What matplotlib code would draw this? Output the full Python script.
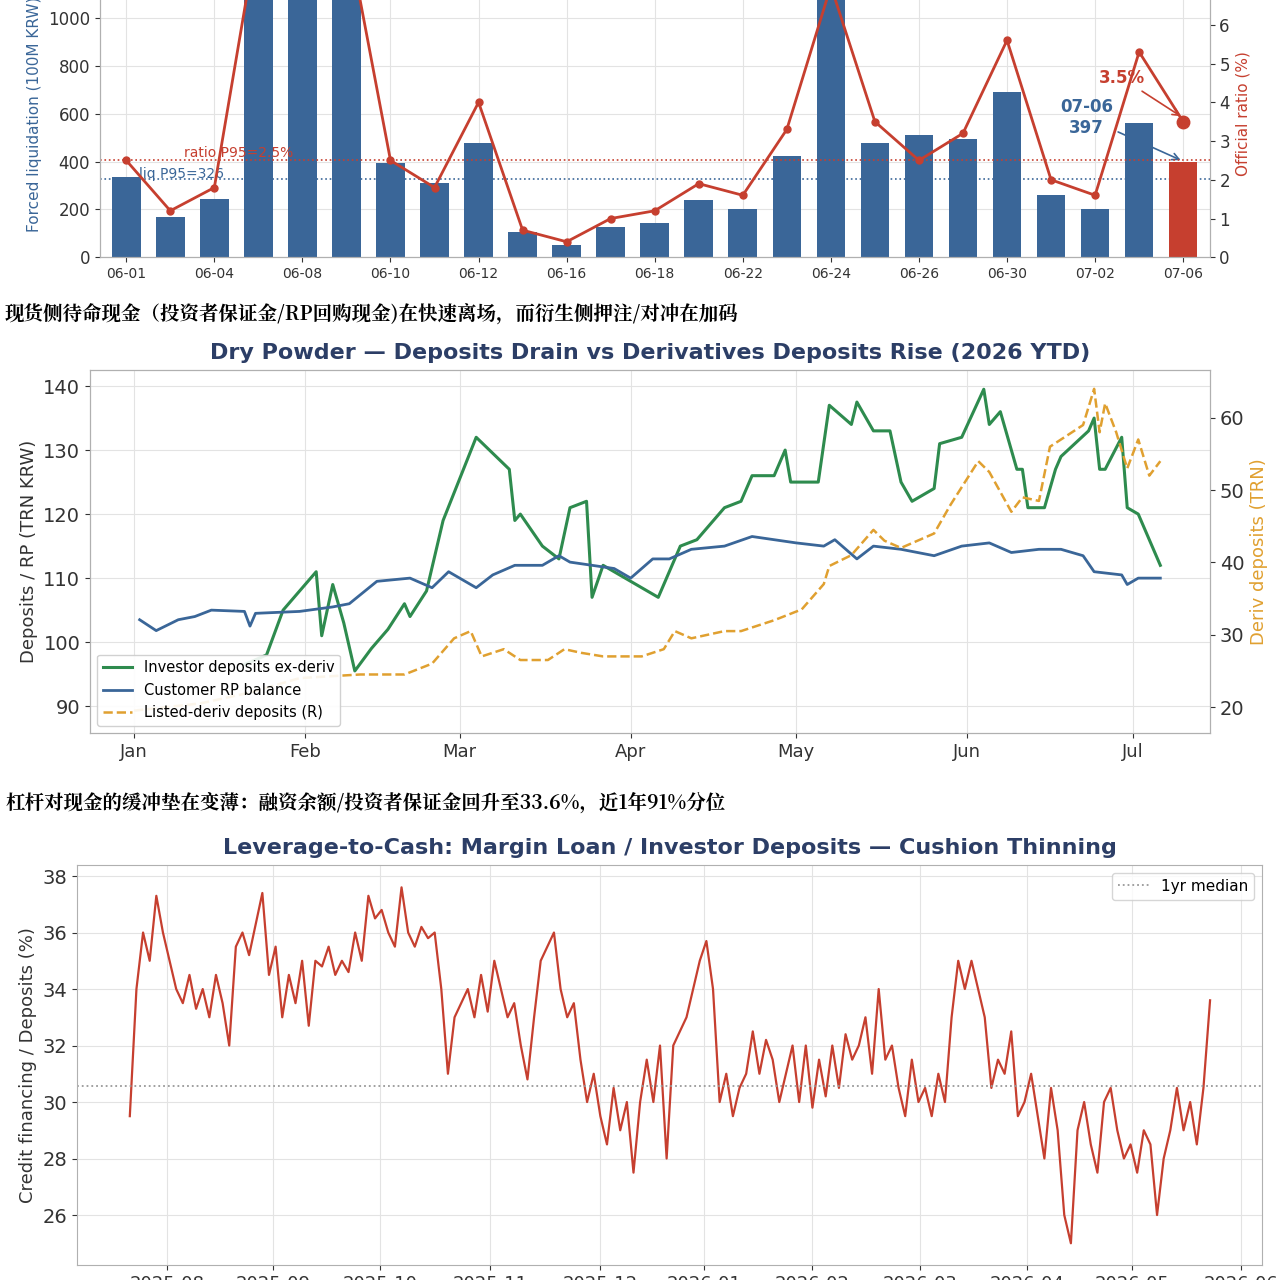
import numpy as np
import pandas as pd
import matplotlib
matplotlib.use('Agg')
import matplotlib.pyplot as plt

plt.rcParams['font.family'] = ['DejaVu Sans', 'Noto Sans CJK SC']

# ---- panel 1: forced liquidation ----
liq_dates = ['06-01', '06-02', '06-04', '06-05', '06-08', '06-09', '06-10', '06-11', '06-12',
             '06-15', '06-16', '06-17', '06-18', '06-19', '06-22', '06-23', '06-24', '06-25',
             '06-26', '06-29', '06-30', '07-01', '07-02', '07-03', '07-06']
liq_values = [335, 170, 245, 1500, 1500, 1500, 395, 310, 478, 105, 50, 125, 145, 240, 200,
              425, 1500, 478, 510, 495, 690, 260, 200, 562, 397]
ratio_values = [2.5, 1.2, 1.8, 8.5, 9.0, 8.5, 2.5, 1.8, 4.0, 0.7, 0.4, 1.0, 1.2, 1.9, 1.6,
                3.3, 7.0, 3.5, 2.5, 3.2, 5.6, 2.0, 1.6, 5.3, 3.5]
liq_p95 = 326
ratio_p95 = 2.5

# ---- panel 2: dry powder ----
green_day = [20, 24, 27, 31, 33, 34, 36, 38, 40, 43, 46, 49, 50, 53, 56, 62, 68, 69, 70, 74, 77, 79,
             82, 83, 85, 89, 91, 95, 97, 99, 102, 105, 107, 110, 112, 116, 118, 119, 124, 125, 126,
             130, 131, 134, 137, 139, 141, 145, 146, 150, 154, 155, 157, 160, 161, 162, 165, 167,
             168, 173, 174, 175, 176, 179, 180, 182, 186]
green_val = [96.5, 98, 105, 109, 111, 101, 109, 103, 95.5, 99, 102, 106, 104, 108, 119, 132, 127,
             119, 120, 115, 113, 121, 122, 107, 112, 110, 109, 107, 111, 115, 116, 119, 121, 122,
             126, 126, 130, 125, 125, 131, 137, 134, 137.5, 133, 133, 125, 122, 124, 131, 132,
             139.5, 134, 136, 127, 127, 121, 121, 127, 129, 133, 135, 127, 127, 132, 121, 120, 112]
blue_day = [1, 4, 8, 11, 14, 20, 21, 22, 30, 36, 39, 44, 50, 54, 57, 62, 65, 69, 74, 77, 79, 83, 87,
            90, 94, 97, 101, 107, 112, 116, 120, 125, 127, 131, 134, 139, 145, 150, 155, 159, 164,
            168, 172, 174, 179, 180, 182, 186]
blue_val = [103.5, 101.8, 103.5, 104, 105, 104.8, 102.5, 104.5, 104.8, 105.5, 106, 109.5, 110,
            108.5, 111, 108.5, 110.5, 112, 112, 113.5, 112.5, 112, 111.5, 110, 113, 113, 114.5,
            115, 116.5, 116, 115.5, 115, 116, 113, 115, 114.5, 113.5, 115, 115.5, 114, 114.5,
            114.5, 113.5, 111, 110.5, 109, 110, 110]
orange_day = [0, 12, 21, 30, 41, 49, 54, 58, 61, 63, 67, 70, 75, 78, 81, 85, 92, 96, 98, 101, 107,
              110, 116, 121, 125, 126, 130, 134, 136, 139, 145, 148, 153, 155, 159, 161, 164, 166,
              170, 172, 174, 175, 176, 178, 180, 182, 184, 186]
orange_val = [19.5, 20.5, 22, 24, 24.5, 24.5, 26, 29.5, 30.5, 27, 28, 26.5, 26.5, 28, 27.5, 27,
              27, 28, 30.5, 29.5, 30.5, 30.5, 32, 33.5, 37, 39.5, 41, 44.5, 43, 42, 44, 48, 54,
              52.5, 47, 49, 48.5, 56, 58, 59, 64, 58, 62, 58, 53, 57, 52, 54]

# ---- panel 3: leverage to cash ----
lev_ratio = [29.5, 34, 36, 35, 37.3, 36, 35, 34, 33.5, 34.5, 33.3, 34, 33, 34.5, 33.5, 32, 35.5, 36,
             35.2, 36.3, 37.4, 34.5, 35.5, 33, 34.5, 33.5, 35, 32.7, 35, 34.8, 35.5, 34.5, 35, 34.6,
             36, 35, 37.3, 36.5, 36.8, 36, 35.5, 37.6, 36, 35.5, 36.2, 35.8, 36, 34, 31, 33, 33.5,
             34, 33, 34.5, 33.2, 35, 34, 33, 33.5, 32, 30.8, 33, 35, 35.5, 36, 34, 33, 33.5, 31.5,
             30, 31, 29.5, 28.5, 30.5, 29, 30, 27.5, 30, 31.5, 30, 32, 28, 32, 32.5, 33, 34, 35,
             35.7, 34, 30, 31, 29.5, 30.5, 31, 32.5, 31, 32.2, 31.5, 30, 31, 32, 30, 32, 29.8, 31.5,
             30.2, 32, 30.5, 32.4, 31.5, 32, 33, 31, 34, 31.5, 32, 30.5, 29.5, 31.5, 30, 30.5, 29.5,
             31, 30, 33, 35, 34, 35, 34, 33, 30.5, 31.5, 31, 32.5, 29.5, 30, 31, 29.5, 28, 30.5, 29,
             26, 25, 29, 30, 28.5, 27.5, 30, 30.5, 29, 28, 28.5, 27.5, 29, 28.5, 26, 28, 29, 30.5,
             29, 30, 28.5, 30.5, 33.6]
lev_median = 30.55
lev_ticks = ['2025-08', '2025-09', '2025-10', '2025-11', '2025-12', '2026-01', '2026-02',
             '2026-03', '2026-04', '2026-05', '2026-06']

BLUE = '#3a6698'
RED = '#c63f2f'
GREEN = '#2e8b4e'
ORANGE = '#e0a030'
NAVY = '#2c3e66'

fig = plt.figure(figsize=(12.8, 12.8), dpi=100)


def style(ax):
    ax.grid(True, color='#e3e3e3', linewidth=0.8)
    for s in ax.spines.values():
        s.set_color('#b0b0b0')
    ax.tick_params(colors='#333333', labelsize=13)


# panel 1
ax1 = fig.add_axes([0.078, 0.799, 0.867, 0.224])
x = np.arange(len(liq_dates))
colors = [BLUE] * (len(x) - 1) + [RED]
ax1.bar(x, liq_values, width=0.65, color=colors, zorder=2)
ax1.set_ylim(0, 1200)
ax1.set_xlim(-0.6, len(x) - 0.4)
style(ax1)
ax1.set_xticks(x[::2])
ax1.set_xticklabels(liq_dates[::2])
ax1.tick_params(axis='x', labelsize=10)
ax1.tick_params(axis='y', labelsize=12)
ax1.set_ylabel('Forced liquidation (100M KRW)', color=BLUE, fontsize=11)
ax1.axhline(liq_p95, color=BLUE, ls=':', lw=1.2, zorder=1)
ax1.text(0.3, liq_p95 + 5, 'liq P95=326', color=BLUE, fontsize=10, zorder=1)
ax1b = ax1.twinx()
ax1b.plot(x, ratio_values, color=RED, lw=2, marker='o', ms=5)
ax1b.plot(x[-1], ratio_values[-1], 'o', color=RED, ms=9)
ax1b.set_ylim(0, 7.4)
ax1b.axhline(ratio_p95, color=RED, ls=':', lw=1.2)
ax1b.text(1.3, ratio_p95 + 0.1, 'ratio P95=2.5%', color=RED, fontsize=10)
ax1b.set_ylabel('Official ratio (%)', color=RED, fontsize=11)
ax1b.tick_params(colors='#333333', labelsize=12)
for s in ax1b.spines.values():
    s.set_color('#b0b0b0')
ax1.annotate('07-06\n397', xy=(x[-1], liq_values[-1] + 5), xytext=(x[-1] - 2.2, 520),
             color=BLUE, fontsize=12, fontweight='bold', ha='center',
             arrowprops=dict(arrowstyle='->', color=BLUE, lw=1.2))
ax1b.annotate('3.5%', xy=(x[-1], ratio_values[-1] + 0.1), xytext=(x[-1] - 1.4, 4.5),
              color=RED, fontsize=12, fontweight='bold', ha='center',
              arrowprops=dict(arrowstyle='->', color=RED, lw=1.2))

cjk = ['Noto Serif CJK SC', 'Noto Sans CJK SC', 'DejaVu Sans']
fig.text(0.004, 1 - 314 / 1280, '现货侧待命现金（投资者保证金/RP回购现金)在快速离场，而衍生侧押注/对冲在加码',
         family=cjk, fontsize=14, fontweight='bold', va='center')
fig.text(0.004, 1 - 803 / 1280, '杠杆对现金的缓冲垫在变薄：融资余额/投资者保证金回升至33.6%，近1年91%分位',
         family=cjk, fontsize=14, fontweight='bold', va='center')

# panel 2
start = pd.Timestamp('2026-01-01')
to_dt = lambda days: [start + pd.Timedelta(days=d) for d in days]
ax2 = fig.add_axes([0.0703, 0.4273, 0.875, 0.2836])
l1, = ax2.plot(to_dt(green_day), green_val, color=GREEN, lw=2.2, label='Investor deposits ex-deriv')
l2, = ax2.plot(to_dt(blue_day), blue_val, color=BLUE, lw=2, label='Customer RP balance')
ax2.set_ylim(85.8, 142.5)
ax2.set_xlim(pd.Timestamp('2025-12-24'), pd.Timestamp('2026-07-15'))
months = pd.date_range('2026-01-01', '2026-07-01', freq='MS')
ax2.set_xticks(months)
ax2.set_xticklabels([m.strftime('%b') for m in months], fontsize=14)
ax2.set_ylabel('Deposits / RP (TRN KRW)', fontsize=13, color='#333333')
ax2.set_title('Dry Powder — Deposits Drain vs Derivatives Deposits Rise (2026 YTD)',
              fontsize=16, fontweight='bold', color=NAVY, pad=8)
style(ax2)
ax2.tick_params(axis='y', labelsize=14)
ax2b = ax2.twinx()
l3, = ax2b.plot(to_dt(orange_day), orange_val, color=ORANGE, lw=1.8, ls='--', label='Listed-deriv deposits (R)')
ax2b.set_ylim(16.4, 66.6)
ax2b.set_ylabel('Deriv deposits (TRN)', color=ORANGE, fontsize=13)
ax2b.tick_params(colors='#333333', labelsize=14)
for s in ax2b.spines.values():
    s.set_color('#b0b0b0')
ax2b.legend(handles=[l1, l2, l3], loc='lower left', fontsize=10.5, framealpha=0.9)

# panel 3
ax3 = fig.add_axes([0.060, 0.0117, 0.926, 0.3125])
xi = np.arange(len(lev_ratio))
ax3.plot(xi, lev_ratio, color=RED, lw=1.6)
ax3.axhline(lev_median, color='#999999', ls=':', lw=1.3, label='1yr median')
n = len(lev_ratio) - 1
px = n / (1210 - 130)
ax3.set_xlim(-(130 - 77) * px, n + (1262 - 1210) * px)
ax3.set_xticks([(p - 130) * px for p in [167, 273, 380, 490, 600, 704, 812, 920, 1027, 1132, 1241]])
ax3.set_xticklabels(lev_ticks, fontsize=13)
ax3.set_ylim(24.23, 38.39)
ax3.set_yticks([26, 28, 30, 32, 34, 36, 38])
ax3.set_ylabel('Credit financing / Deposits (%)', fontsize=13, color='#333333')
ax3.set_title('Leverage-to-Cash: Margin Loan / Investor Deposits — Cushion Thinning',
              fontsize=16, fontweight='bold', color=NAVY, pad=8)
style(ax3)
ax3.tick_params(axis='y', labelsize=14)
ax3.legend(loc='upper right', fontsize=11)

fig.savefig('out.png', dpi=100)
